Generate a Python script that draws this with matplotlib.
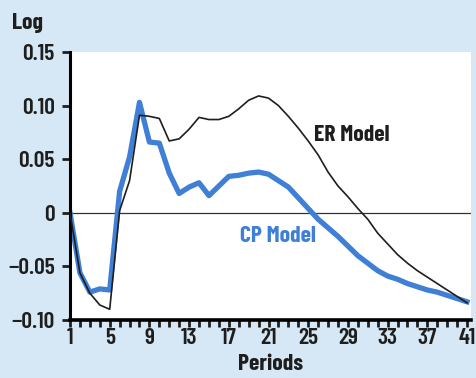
import matplotlib
matplotlib.use("Agg")
import matplotlib.pyplot as plt

plt.rcParams['font.family'] = ['Barlow Condensed', 'Roboto Condensed', 'Oswald', 'DejaVu Sans']

# periods 1..41
periods = list(range(1, 42))

er_model = [0.0, -0.056, -0.075, -0.086, -0.090, 0.002, 0.030, 0.091, 0.090, 0.088,
            0.067, 0.069, 0.078, 0.089, 0.087, 0.087, 0.090, 0.097, 0.105, 0.109,
            0.107, 0.100, 0.090, 0.079, 0.067, 0.054, 0.038, 0.025, 0.015, 0.004,
            -0.006, -0.019, -0.029, -0.039, -0.047, -0.054, -0.060, -0.066, -0.072, -0.078,
            -0.084]

cp_model = [0.0, -0.056, -0.074, -0.071, -0.072, 0.020, 0.052, 0.103, 0.066, 0.065,
            0.037, 0.018, 0.024, 0.028, 0.016, 0.025, 0.034, 0.035, 0.037, 0.038,
            0.036, 0.030, 0.024, 0.014, 0.004, -0.006, -0.014, -0.022, -0.031, -0.040,
            -0.047, -0.054, -0.059, -0.062, -0.066, -0.069, -0.072, -0.074, -0.077, -0.080,
            -0.083]

x_labels = [1, 5, 9, 13, 17, 21, 25, 29, 33, 37, 41]
y_ticks = [-0.10, -0.05, 0, 0.05, 0.10, 0.15]
y_labels = ['\u22120.10', '\u22120.05', '0', '0.05', '0.10', '0.15']

bg = '#d6e8f5'
blue = '#3f7fd6'
ink = '#1e1e1e'

fig = plt.figure(figsize=(4.76, 3.78), dpi=100)
fig.patch.set_facecolor(bg)
ax = fig.add_axes([70 / 476, 58 / 378, 401 / 476, 268 / 378])
ax.set_facecolor('white')

ax.axhline(0, color='#333333', linewidth=0.9, zorder=1)
ax.plot(periods, cp_model, color=blue, linewidth=3.8, zorder=2)
ax.plot(periods, er_model, color=ink, linewidth=1.2, zorder=3)

ax.set_xlim(1, 41.4)
ax.set_ylim(-0.10, 0.15)

ax.set_xticks(x_labels)
ax.set_xticklabels([str(v) for v in x_labels])
ax.set_xticks(periods, minor=True)
ax.set_yticks(y_ticks)
ax.set_yticklabels(y_labels)

for s in ['top', 'right']:
    ax.spines[s].set_visible(False)
ax.spines['left'].set_linewidth(2.2)
ax.spines['bottom'].set_linewidth(2.6)
ax.tick_params(axis='x', which='both', direction='out', length=5, width=2,
               labelsize=17, pad=1, colors=ink)
ax.tick_params(axis='y', direction='out', length=6, width=2, labelsize=17, pad=5,
               colors=ink)
for lab in ax.get_xticklabels() + ax.get_yticklabels():
    lab.set_fontweight(600)

ax.text(25.6, 0.067, 'ER Model', fontsize=17, fontweight='bold', color=ink,
        va='baseline')
ax.text(18.1, -0.027, 'CP Model', fontsize=17, fontweight='bold', color=blue,
        va='baseline')

ax.set_xlabel('Periods', fontsize=17, fontweight='bold', labelpad=4, color=ink)
fig.text(12 / 476, 1 - 29 / 378, 'Log', fontsize=17, fontweight='bold', color=ink,
         va='baseline')

fig.savefig('out.png', dpi=100, facecolor=bg)
